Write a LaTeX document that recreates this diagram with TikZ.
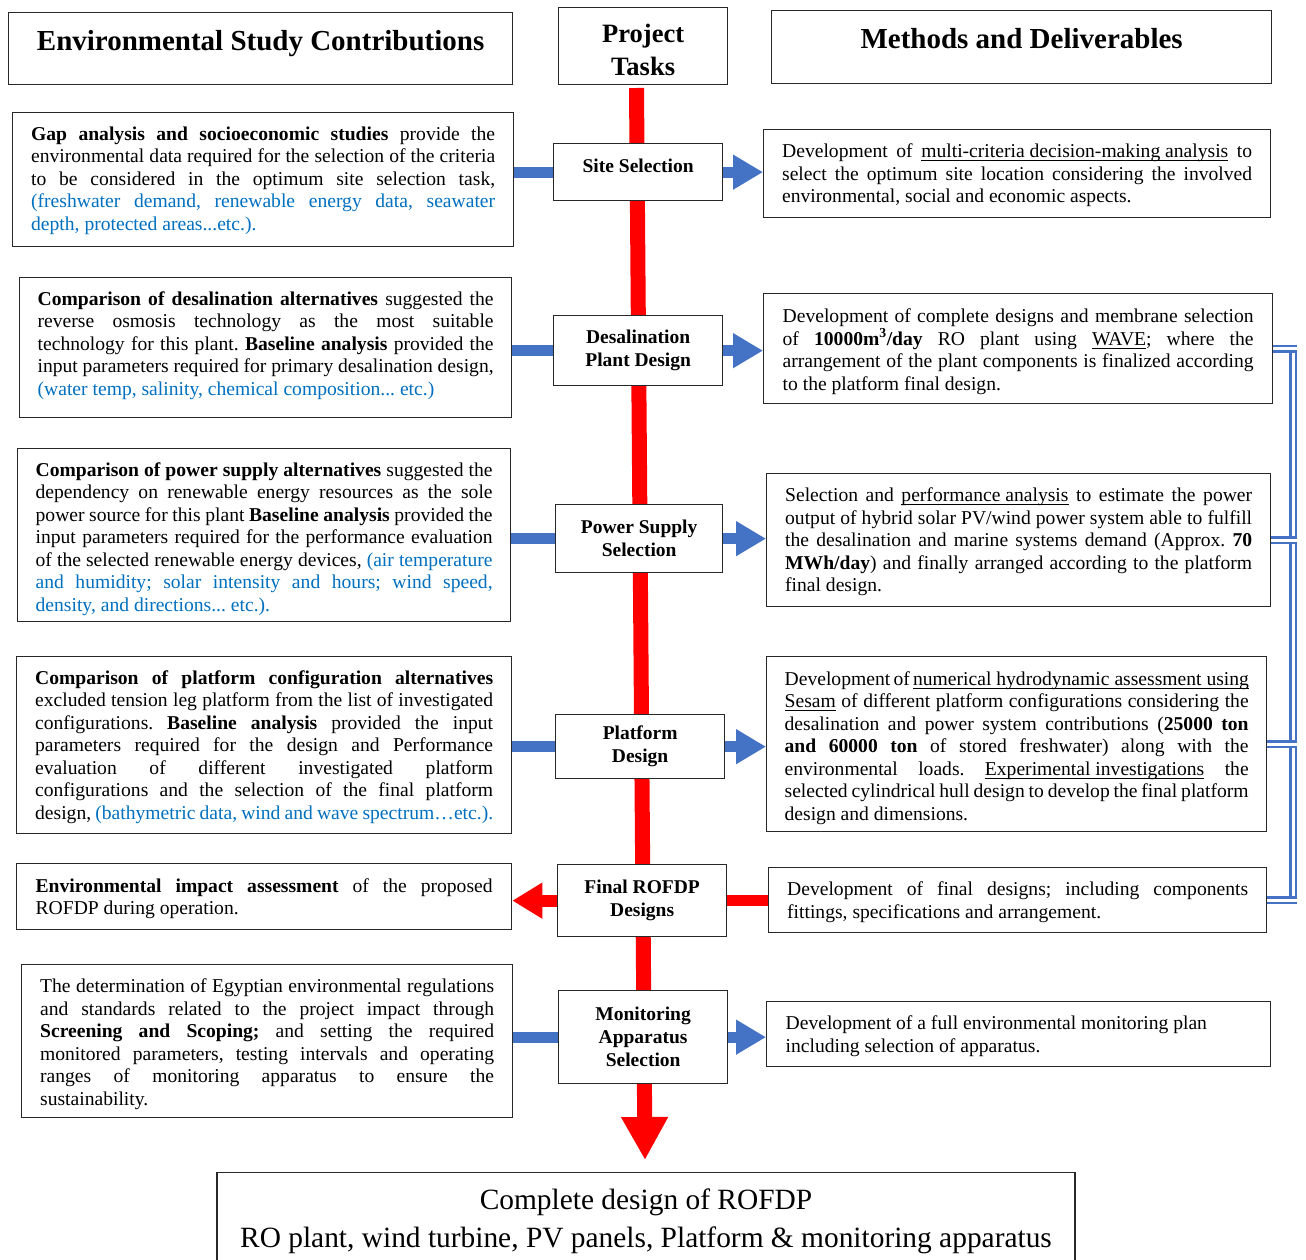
\documentclass[tikz,border=0pt]{standalone}
\usepackage{fontspec}
\setmainfont{Liberation Serif}
\usetikzlibrary{arrows.meta,calc}
\definecolor{cblue}{RGB}{68,114,196}
\definecolor{tblue}{RGB}{0,112,192}
\definecolor{cred}{RGB}{255,0,0}
\definecolor{bord}{RGB}{40,40,40}
\newcommand\jl[1]{\hbox to\hsize{#1}}
\newcommand\el[1]{\hbox to\hsize{#1\hfil}}
\newcommand\para[3]{\vbox{\hsize=#2\relax\vskip #1\relax #3}}
\newcommand\bodyfont{\fontsize{19.6}{22.5}\selectfont}
\newcommand\tb[1]{\textcolor{tblue}{#1}}
\newcommand\myul[1]{\setbox0\hbox{#1}\rlap{\rule[-3.5pt]{\wd0}{1.1pt}}\box0\relax}
\newcommand\cl[1]{\hbox to 169pt{\hfil#1\hfil}}
\hbadness=10000
\hfuzz=60pt
\frenchspacing
\begin{document}
\begin{tikzpicture}[x=1pt,y=-1pt,
  tbox/.style={draw=bord, line width=1.3pt, fill=white, inner sep=0pt, anchor=north west, font=\bodyfont\frenchspacing},
  cbox/.style={draw=bord, line width=1.3pt, fill=white, inner sep=0pt, anchor=north west, align=center, font=\bfseries\fontsize{19.5}{23}\selectfont},
  hbox/.style={draw=bord, line width=1.3pt, fill=white, inner sep=0pt, anchor=north west, font=\bfseries\fontsize{29}{33}\selectfont},
  bline/.style={cblue, line width=11pt},
  barrow/.style={cblue, line width=11pt, -{Triangle[length=30pt,width=33pt]}},
  rarrow/.style={cred, line width=12pt, -{Triangle[length=30pt,width=34pt]}},
  rline/.style={cred, line width=11pt},
  redmain/.style={cred, line width=15pt, -{Triangle[length=43pt,width=44pt]}},
  dbl/.style={draw=cblue, double=white, line width=2.5pt, double distance=3pt}
]
\useasboundingbox (0,0) rectangle (1306,1260);
\clip (0,0) rectangle (1306,1260);
\fill[white] (0,0) rectangle (1306,1260);

% main red spine
\coordinate (redtop) at (636.5,88);
\coordinate (redtip) at (645,1160);
\draw[redmain] (redtop) -- (redtip);

% headers
\node[hbox, minimum width=504, text height=38, text depth=34] (h1) at (8,12) {Environmental Study Contributions};
\node[hbox, minimum width=169, text height=68, text depth=9, font=\bfseries\fontsize{26.5}{33}\selectfont] (pt) at (558,7) {\vbox{\cl{Project}\cl{Tasks}}};
\node[hbox, minimum width=500, text height=38, text depth=35] (h3) at (771,10) {Methods and Deliverables};

% centre tasks
\node[cbox, minimum width=169, text height=29, text depth=28] (c1) at (553,143) {Site Selection};
\node[cbox, minimum width=169, minimum height=70] (c2) at (553,315) {Desalination\\Plant Design};
\node[cbox, minimum width=167, minimum height=68] (c3) at (555,504) {Power Supply\\Selection};
\node[cbox, minimum width=169, minimum height=64] (c4) at (555,714) {Platform\\Design};
\node[cbox, minimum width=169, minimum height=72] (c5) at (557,864) {Final ROFDP\\Designs};
\node[cbox, minimum width=169, minimum height=93] (c6) at (558,990) {Monitoring\\Apparatus\\Selection};

% left boxes
\node[tbox, minimum width=501, minimum height=134] (l1) at (12,112) {\para{2pt}{464pt}{%
\jl{\textbf{Gap analysis and socioeconomic studies} provide the}
\jl{environmental data required for the selection of the criteria}
\jl{to be considered in the optimum site selection task,}
\jl{\tb{(freshwater demand, renewable energy data, seawater}}
\el{\tb{depth, protected areas...etc.).}}}};

\node[tbox, minimum width=492, minimum height=140] (l2) at (19,277) {\para{-4pt}{456pt}{%
\jl{\textbf{Comparison of desalination alternatives} suggested the}
\jl{reverse osmosis technology as the most suitable}
\jl{technology for this plant. \textbf{Baseline analysis} provided the}
\jl{input parameters required for primary desalination design,}
\el{\tb{(water temp, salinity, chemical composition... etc.)}}}};

\node[tbox, minimum width=493, minimum height=173] (l3) at (17,448) {\para{8pt}{457pt}{%
\jl{\textbf{Comparison of power supply alternatives} suggested the}
\jl{dependency on renewable energy resources as the sole}
\jl{power source for this plant \textbf{Baseline analysis} provided the}
\jl{input parameters required for the performance evaluation}
\jl{of the selected renewable energy devices, \tb{(air temperature}}
\jl{\tb{and humidity; solar intensity and hours; wind speed,}}
\el{\tb{density, and directions... etc.).}}}};

\node[tbox, minimum width=495, minimum height=177] (l4) at (16,656) {\para{4pt}{458pt}{%
\jl{\textbf{Comparison of platform configuration alternatives}}
\jl{excluded tension leg platform from the list of investigated}
\jl{configurations. \textbf{Baseline analysis} provided the input}
\jl{parameters required for the design and Performance}
\jl{evaluation of different investigated platform}
\jl{configurations and the selection of the final platform}
\el{design, \tb{(bathymetric data, wind and wave spectrum…etc.).}}}};

\node[tbox, minimum width=495, minimum height=66] (l5) at (16,863) {\para{4pt}{457pt}{%
\jl{\textbf{Environmental impact assessment} of the proposed}
\el{ROFDP during operation.}}};

\node[tbox, minimum width=491, minimum height=153] (l6) at (21,964) {\para{6pt}{454pt}{%
\jl{The determination of Egyptian environmental regulations}
\jl{and standards related to the project impact through}
\jl{\textbf{Screening and Scoping;} and setting the required}
\jl{monitored parameters, testing intervals and operating}
\jl{ranges of monitoring apparatus to ensure the}
\el{sustainability.}}};

% right boxes
\node[tbox, minimum width=507, minimum height=88] (r1) at (763,129) {\para{4pt}{470pt}{%
\jl{Development of \myul{multi-criteria decision-making analysis} to}
\jl{select the optimum site location considering the involved}
\el{environmental, social and economic aspects.}}};

\node[tbox, minimum width=509, minimum height=110] (r2) at (763,293) {\para{6pt}{471pt}{%
\jl{Development of complete designs and membrane selection}
\jl{of \textbf{10000m\textsuperscript{3}/day} RO plant using \myul{WAVE}; where the}
\jl{arrangement of the plant components is finalized according}
\el{to the platform final design.}}};

\node[tbox, minimum width=504, minimum height=133] (r3) at (766,473) {\para{4pt}{467pt}{%
\jl{Selection and \myul{performance analysis} to estimate the power}
\jl{output of hybrid solar PV/wind power system able to fulfill}
\jl{the desalination and marine systems demand (Approx. \textbf{70}}
\jl{\textbf{MWh/day}) and finally arranged according to the platform}
\el{final design.}}};

\node[tbox, minimum width=500, minimum height=175] (r4) at (766,656) {\para{8pt}{464pt}{%
\jl{Development of \myul{numerical hydrodynamic assessment using}}
\jl{\myul{Sesam} of different platform configurations considering the}
\jl{desalination and power system contributions (\textbf{25000 ton}}
\jl{\textbf{and 60000 ton} of stored freshwater) along with the}
\jl{environmental loads. \myul{Experimental investigations} the}
\jl{selected cylindrical hull design to develop the final platform}
\el{design and dimensions.}}};

\node[tbox, minimum width=498, minimum height=65] (r5) at (768,867) {\para{4pt}{461pt}{%
\jl{Development of final designs; including components}
\el{fittings, specifications and arrangement.}}};

\node[tbox, minimum width=504, minimum height=65] (r6) at (766,1001) {\para{4pt}{466pt}{%
\el{Development of a full environmental monitoring plan}
\el{including selection of apparatus.}}};

% final result box
\node[draw=bord, line width=1.3pt, fill=white, inner sep=0pt, anchor=north, minimum width=858, minimum height=98, align=center, font=\fontsize{29.4}{38}\selectfont] (fin) at (646,1172) {Complete design of ROFDP\\RO plant, wind turbine, PV panels, Platform \& monitoring apparatus};

% connectors left -> centre -> right
\foreach \i in {1,2,3,4,6}{
  \draw[bline] (c\i.west -| l\i.east) -- (c\i.west);
  \draw[barrow] (c\i.east) -- (c\i.east -| r\i.west);
}
\draw[rarrow] (c5.west) -- (c5.west -| l5.east);
\draw[rline] (c5.east) -- (c5.east -| r5.west);

% right feedback bus
\coordinate (bus) at (1293,0);
\coordinate (busR) at (1297,0);
\draw[dbl] ($(r2.east -| bus)+(0,-4)$) -- ($(r5.east -| bus)+(0,4)$);
\foreach \i in {2,3,4,5}{
  \draw[dbl] (r\i.east) -- (r\i.east -| busR);
}
\end{tikzpicture}
\end{document}
